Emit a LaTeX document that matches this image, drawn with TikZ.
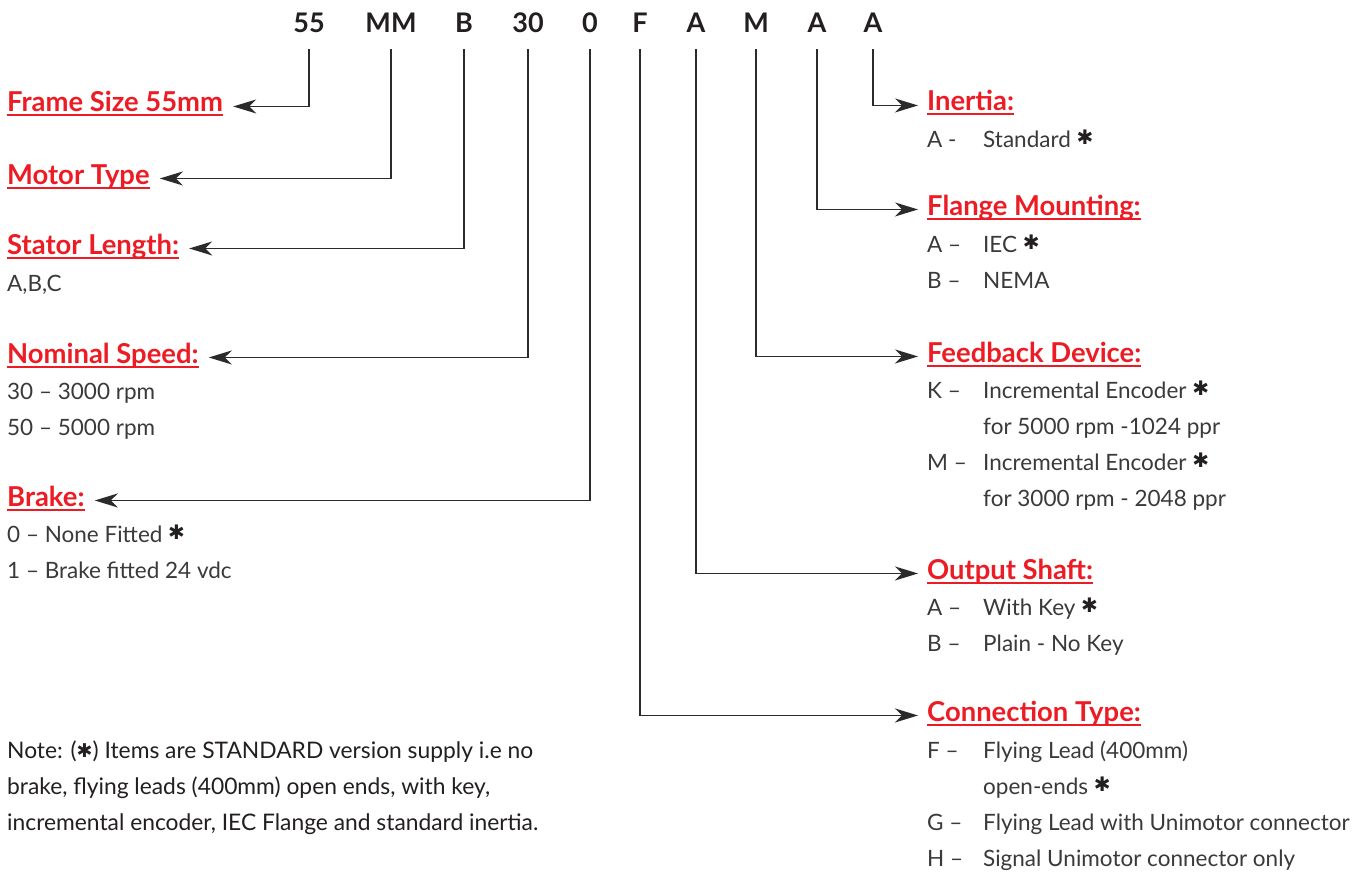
\documentclass[tikz,border=0pt]{standalone}
\usepackage{fontspec}
\setmainfont{Lato}
\newfontfamily\djv{DejaVu Sans}
\usetikzlibrary{arrows.meta}
\definecolor{hred}{HTML}{ED1C24}
\definecolor{ink}{HTML}{231F20}
\definecolor{bodytxt}{HTML}{3A3A3A}
\definecolor{wire}{HTML}{2B2B2B}
\newcommand\hul[1]{\setbox0\hbox{#1}\rlap{\color{hred}\rule[-4.5pt]{\wd0}{2pt}}\box0}
\newcommand\stdmk{\ {\djv\fontsize{20}{20}\selectfont\raisebox{2.5pt}{\color{ink}✱}}}
\newcommand\lab[1]{\makebox[56pt][l]{#1}}
\begin{document}
\begin{tikzpicture}[x=1pt,y=-1pt,
  code/.style={font=\bfseries\fontsize{27}{27}\selectfont, text=ink, inner sep=0pt, text height=19pt, text depth=16pt, anchor=base},
  head/.style={font=\bfseries\fontsize{27.4}{27.4}\selectfont, text=hred, inner sep=0pt, anchor=base west},
  item/.style={font=\fontsize{22.5}{22.5}\selectfont, text=bodytxt, inner sep=0pt, anchor=base west},
  notetxt/.style={font=\fontsize{22.8}{22.8}\selectfont, text=ink, inner sep=0pt, anchor=base west},
  conn/.style={draw=wire, line width=1.5pt, -{Stealth[length=23pt,width=14pt,inset=7pt]}},
  toleft/.style={xshift=10pt,yshift=3pt},
  toright/.style={xshift=-9pt,yshift=3pt}]
\useasboundingbox[fill=white] (0,0) rectangle (1370,872);

% code letters
\node[code] (c1) at (309,33) {55};
\node[code] (c2) at (391,33) {MM};
\node[code] (c3) at (464,33) {B};
\node[code] (c4) at (528,33) {30};
\node[code] (c5) at (590,33) {0};
\node[code] (c6) at (640,33) {F};
\node[code] (c7) at (696,33) {A};
\node[code] (c8) at (756,33) {M};
\node[code] (c9) at (817,33) {A};
\node[code] (c10) at (873,33) {A};

% left headings
\node[head] (hframe) at (7,112) {\hul{Frame Size 55mm}};
\node[head] (hmotor) at (7,184) {\hul{Motor Type}};
\node[head] (hstator) at (7,254) {\hul{Stator Length:}};
\node[head] (hspeed) at (7,363) {\hul{Nominal Speed:}};
\node[head] (hbrake) at (7,506) {\hul{Brake:}};

\node[item] (sl1) at (7,291) {A,B,C};
\node[item] (ns1) at (7,399) {30 – 3000 rpm};
\node[item] (ns2) at (7,435) {50 – 5000 rpm};
\node[item] (br1) at (7,542) {0 – None Fitted\stdmk};
\node[item] (br2) at (7,578) {1 – Brake fitted 24 vdc};

% right headings
\node[head] (hinertia) at (927,111) {\hul{Inertia:}};
\node[head] (hflange) at (927,215) {\hul{Flange Mounting:}};
\node[head] (hfeed) at (927,362) {\hul{Feedback Device:}};
\node[head] (hshaft) at (927,579) {\hul{Output Shaft:}};
\node[head] (hconn) at (927,721) {\hul{Connection Type:}};

\node[item] (in1) at (927,147) {\lab{A -}Standard\stdmk};
\node[item] (fl1) at (927,252) {\lab{A –}IEC\stdmk};
\node[item] (fl2) at (927,288) {\lab{B –}NEMA};
\node[item] (fb1) at (927,398) {\lab{K –}Incremental Encoder\stdmk};
\node[item] (fb2) at (927,434) {\lab{}for 5000 rpm -1024 ppr};
\node[item] (fb3) at (927,470) {\lab{M –}Incremental Encoder\stdmk};
\node[item] (fb4) at (927,506) {\lab{}for 3000 rpm - 2048 ppr};
\node[item] (os1) at (927,615) {\lab{A –}With Key\stdmk};
\node[item] (os2) at (927,651) {\lab{B –}Plain - No Key};
\node[item] (ct1) at (927,758) {\lab{F –}Flying Lead (400mm)};
\node[item] (ct2) at (927,794) {\lab{}open-ends\stdmk};
\node[item] (ct3) at (927,830) {\lab{G –}Flying Lead with Unimotor connector};
\node[item] (ct4) at (927,866) {\lab{H –}Signal Unimotor connector only};

% note
\node[notetxt] (n1) at (7,758) {Note: ({\djv\fontsize{19}{19}\selectfont\raisebox{1pt}{✱}}) Items are STANDARD version supply i.e no};
\node[notetxt] (n2) at (7,794) {brake, flying leads (400mm) open ends, with key,};
\node[notetxt] (n3) at (7,830) {incremental encoder, IEC Flange and standard inertia.};

% connectors
\draw[conn] (c1.south) |- ([toleft]hframe.mid east);
\draw[conn] (c2.south) |- ([toleft]hmotor.mid east);
\draw[conn] (c3.south) |- ([toleft]hstator.mid east);
\draw[conn] (c4.south) |- ([toleft]hspeed.mid east);
\draw[conn] (c5.south) |- ([toleft]hbrake.mid east);
\draw[conn] (c6.south) |- ([toright]hconn.mid west);
\draw[conn] (c7.south) |- ([toright]hshaft.mid west);
\draw[conn] (c8.south) |- ([toright]hfeed.mid west);
\draw[conn] (c9.south) |- ([toright]hflange.mid west);
\draw[conn] (c10.south) |- ([toright]hinertia.mid west);
\end{tikzpicture}
\end{document}
